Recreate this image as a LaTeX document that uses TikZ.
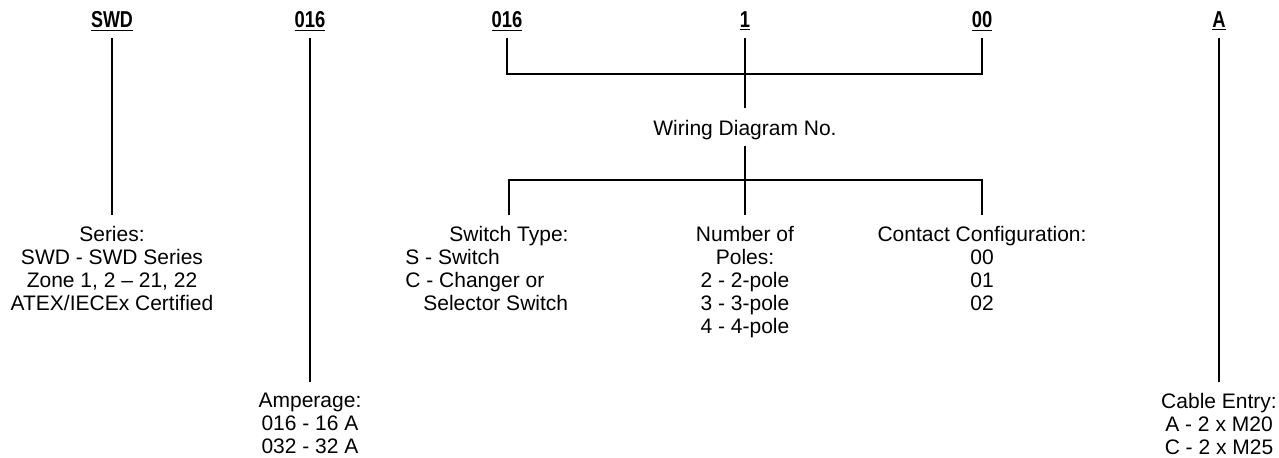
\documentclass[tikz,border=0pt]{standalone}
\usepackage{fontspec}
\setmainfont{Liberation Sans}
\usepackage{tikz}

\begin{document}
\begin{tikzpicture}[x=0.5pt,y=-0.5pt,
    code/.style={font=\fontsize{11.5}{12}\selectfont\bfseries,inner xsep=0pt,inner ysep=3.3pt,anchor=base},
    desc/.style={font=\fontsize{10.5}{11.5}\selectfont,align=center,inner xsep=0pt,inner ysep=5.5pt,anchor=north}]
    \useasboundingbox(0,0)rectangle(1279,457);

    \node[code](swd)at(112,27){\scalebox{0.78}[1]{\underline{SWD}}};
    \node[code](amp)at(310,27){\scalebox{0.8}[1]{\underline{016}}};
    \node[code](wdno)at(507,27){\scalebox{0.8}[1]{\underline{016}}};
    \node[code](poleno)at(745,27){\scalebox{0.8}[1]{\underline{1}}};
    \node[code](contno)at(982,27){\scalebox{0.8}[1]{\underline{00}}};
    \node[code](cab)at(1219,27){\scalebox{0.8}[1]{\underline{A}}};

    \node[desc](series)at(112,215){Series:\\SWD - SWD Series\\Zone 1, 2 – 21, 22\\ATEX/IECEx Certified};
    \node[desc](amperage)at(310,382){Amperage:\\016 - 16 A\\032 - 32 A};
    \node[desc,anchor=base,text depth=0pt](wiring)at(745,135){Wiring Diagram No.};
    \node[desc](swtype)at(509,215){Switch Type:};
    \node[desc,align=left,anchor=base west,inner sep=0pt](swlist)at(405,310){S - Switch\\C - Changer or\\\hspace*{9pt}Selector Switch};
    \node[desc](poles)at(745,215){Number of\\Poles:\\2 - 2-pole\\3 - 3-pole\\4 - 4-pole};
    \node[desc](contact)at(982,215){Contact Configuration:\\00\\01\\02};
    \node[desc](cable)at(1219,382){Cable Entry:\\A - 2 x M20\\C - 2 x M25};

    \coordinate(top)at(745,74);
    \coordinate(mid)at(745,180);

    \draw[-,line width=0.6pt](swd)--(series);
    \draw[-,line width=0.6pt](amp)--(amperage);
    \draw[-,line width=0.6pt](cab)--(cable);
    \draw[-,line width=0.6pt](wdno)|-(top)-|(contno);
    \draw[-,line width=0.6pt](poleno)--(wiring);
    \draw[-,line width=0.6pt](wiring)--(poles);
    \draw[-,line width=0.6pt](swtype)|-(mid)-|(contact);
\end{tikzpicture}
\end{document}
